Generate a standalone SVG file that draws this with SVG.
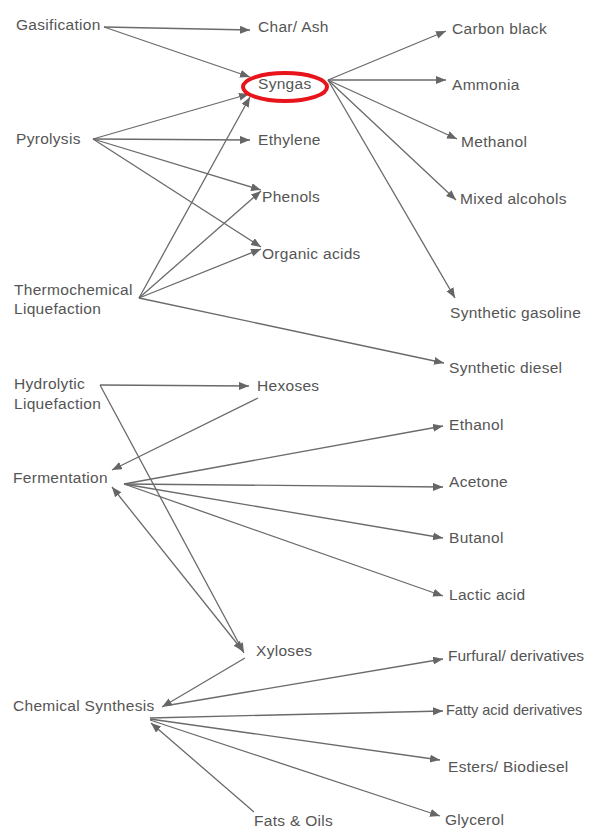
<svg xmlns="http://www.w3.org/2000/svg" width="591" height="830" viewBox="0 0 591 830">
<defs>
<marker id="ah" markerWidth="11" markerHeight="9" refX="10" refY="4" orient="auto-start-reverse" markerUnits="userSpaceOnUse">
<path d="M0,0 L10,4 L0,8 z" fill="#666"/>
</marker>
<style>
text{font-family:"Liberation Sans",Arial,sans-serif;font-size:15.5px;fill:#555;letter-spacing:0.3px}
text.edge{letter-spacing:0}
#connectors line{stroke:#6a6a6a;stroke-width:1.3;marker-end:url(#ah)}
</style>
</defs>
<rect width="591" height="830" fill="#fff"/>
<g id="connectors">
<line x1="104" y1="27" x2="250" y2="30"/>
<line x1="104" y1="27" x2="250" y2="77"/>
<line x1="93" y1="139" x2="249" y2="94"/>
<line x1="93" y1="139" x2="250" y2="140"/>
<line x1="93" y1="139" x2="261" y2="190"/>
<line x1="93" y1="139" x2="261" y2="247"/>
<line x1="139" y1="298" x2="250" y2="97"/>
<line x1="139" y1="298" x2="261" y2="191"/>
<line x1="139" y1="298" x2="261" y2="249"/>
<line x1="139" y1="298" x2="444" y2="363"/>
<line x1="328" y1="80" x2="446" y2="31"/>
<line x1="328" y1="80" x2="446" y2="80"/>
<line x1="328" y1="80" x2="457" y2="139"/>
<line x1="328" y1="80" x2="456" y2="200"/>
<line x1="328" y1="80" x2="455" y2="298"/>
<line x1="100" y1="385" x2="249" y2="386"/>
<line x1="100" y1="385" x2="244" y2="653"/>
<line x1="258" y1="398" x2="112" y2="470"/>
<line x1="124" y1="484" x2="443" y2="426"/>
<line x1="124" y1="484" x2="443" y2="487"/>
<line x1="124" y1="484" x2="443" y2="538"/>
<line x1="124" y1="484" x2="443" y2="596"/>
<line x1="112" y1="487" x2="243" y2="651" marker-start="url(#ah)"/>
<line x1="245" y1="658" x2="162" y2="707"/>
<line x1="170" y1="705" x2="443" y2="659"/>
<line x1="150" y1="718" x2="443" y2="711"/>
<line x1="150" y1="719" x2="440" y2="760"/>
<line x1="150" y1="720" x2="440" y2="816"/>
<line x1="254" y1="812" x2="151" y2="723"/>
</g>
<g id="gasification"><text x="16" y="30">Gasification</text></g>
<g id="char-ash"><text x="258" y="32">Char/ Ash</text></g>
<g id="syngas"><text x="258" y="89">Syngas</text><ellipse cx="285" cy="87" rx="42" ry="14" fill="none" stroke="#e8141b" stroke-width="4"/></g>
<g id="ethylene"><text x="258" y="145">Ethylene</text></g>
<g id="phenols"><text x="262" y="202">Phenols</text></g>
<g id="organic-acids"><text x="262" y="259">Organic acids</text></g>
<g id="pyrolysis"><text x="16" y="144">Pyrolysis</text></g>
<g id="thermochemical"><text x="14" y="295">Thermochemical</text><text x="14" y="314">Liquefaction</text></g>
<g id="carbon-black"><text x="452" y="34">Carbon black</text></g>
<g id="ammonia"><text x="452" y="90">Ammonia</text></g>
<g id="methanol"><text x="461" y="147">Methanol</text></g>
<g id="mixed-alcohols"><text x="460" y="204">Mixed alcohols</text></g>
<g id="synthetic-gasoline"><text x="450" y="318">Synthetic gasoline</text></g>
<g id="synthetic-diesel"><text x="449" y="373">Synthetic diesel</text></g>
<g id="hydrolytic"><text x="14" y="389">Hydrolytic</text><text x="14" y="409">Liquefaction</text></g>
<g id="hexoses"><text x="257" y="391">Hexoses</text></g>
<g id="fermentation"><text x="13" y="483">Fermentation</text></g>
<g id="ethanol"><text x="449" y="430">Ethanol</text></g>
<g id="acetone"><text x="449" y="487">Acetone</text></g>
<g id="butanol"><text x="449" y="543">Butanol</text></g>
<g id="lactic-acid"><text x="449" y="600">Lactic acid</text></g>
<g id="xyloses"><text x="256" y="656">Xyloses</text></g>
<g id="chemical-synthesis"><text x="13" y="711">Chemical Synthesis</text></g>
<g id="furfural"><text class="edge" x="448" y="661">Furfural/ derivatives</text></g>
<g id="fatty-acid"><text class="edge" x="446" y="715" style="font-size:14.5px">Fatty acid derivatives</text></g>
<g id="esters"><text x="448" y="772">Esters/ Biodiesel</text></g>
<g id="fats-oils"><text x="254" y="826">Fats &amp; Oils</text></g>
<g id="glycerol"><text x="445" y="825">Glycerol</text></g>
</svg>
